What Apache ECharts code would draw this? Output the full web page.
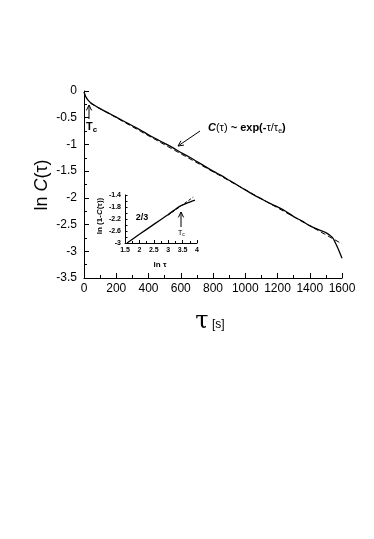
<!DOCTYPE html>
<html>
<head>
<meta charset="utf-8">
<script src="https://cdn.jsdelivr.net/npm/echarts@6/dist/echarts.min.js"></script>
<style>
  html, body { margin: 0; padding: 0; background: #fff; }
  #main { width: 374px; height: 539px; }
</style>
</head>
<body>
<div id="main"></div>
<script>
  // main panel: ln C(tau) against tau [s]
  const tau = [0, 10, 25, 50, 100, 150, 200, 250, 300, 350, 400, 450, 500, 550, 600, 650, 700, 750, 800,
    850, 900, 950, 1000, 1050, 1100, 1150, 1200, 1250, 1300, 1350, 1400, 1450, 1500, 1540, 1560, 1580, 1600];
  const lnC = [-0.02, -0.10, -0.17, -0.24, -0.33, -0.41, -0.49, -0.57, -0.65, -0.73, -0.82, -0.90, -0.98,
    -1.06, -1.15, -1.23, -1.32, -1.41, -1.50, -1.58, -1.67, -1.76, -1.85, -1.94, -2.02, -2.10, -2.17,
    -2.25, -2.35, -2.43, -2.52, -2.59, -2.65, -2.74, -2.85, -2.98, -3.13];
  // exponential fit (dashed)
  const fitTau = [40, 1600];
  const fitLnC = [-0.23, -2.86];

  // inset: ln(1-C) against ln tau
  const lnTau = [1.57, 2.0, 2.5, 3.0, 3.41, 3.65, 3.93];
  const lnOneMinusC = [-3.0, -2.71, -2.38, -2.05, -1.77, -1.67, -1.57];
  const insetFitX = [3.0, 3.87];
  const insetFitY = [-2.07, -1.47];

  const pairs = (xs, ys) => xs.map((x, i) => [x, ys[i]]);
  const font = 'Liberation Sans, Arial, sans-serif';

  // small open arrow, head at (x2, y2)
  function arrow(x1, y1, x2, y2) {
    const ang = Math.atan2(y1 - y2, x1 - x2);
    const len = 6, spread = 0.45;
    return [
      { type: 'line', shape: { x1: x1, y1: y1, x2: x2, y2: y2 }, style: { stroke: '#000', lineWidth: 1 } },
      { type: 'polyline', shape: { points: [
          [x2 + len * Math.cos(ang + spread), y2 + len * Math.sin(ang + spread)],
          [x2, y2],
          [x2 + len * Math.cos(ang - spread), y2 + len * Math.sin(ang - spread)]
        ] }, style: { stroke: '#000', lineWidth: 1, fill: null } }
    ];
  }

  const chart = echarts.init(document.getElementById('main'));

  const axisLine = { onZero: false, lineStyle: { color: '#000', width: 1 } };

  chart.setOption({
    animation: false,
    backgroundColor: '#fff',
    grid: [
      { left: 84, top: 91, width: 258, height: 187 },
      { left: 125, top: 195, width: 72, height: 48 }
    ],
    xAxis: [
      {
        type: 'value', gridIndex: 0, min: 0, max: 1600, interval: 200,
        axisLine: axisLine, splitLine: { show: false },
        axisTick: { inside: true, length: 5, lineStyle: { color: '#000' } },
        minorTick: { show: true, splitNumber: 2, length: 3, lineStyle: { color: '#000' } },
        axisLabel: { color: '#000', fontFamily: font, fontSize: 12, margin: 5, formatter: v => String(v) }
      },
      {
        type: 'value', gridIndex: 1, min: 1.5, max: 4, interval: 0.5,
        axisLine: axisLine, splitLine: { show: false },
        axisTick: { inside: true, length: 3, lineStyle: { color: '#000' } },
        minorTick: { show: true, splitNumber: 2, length: 2, lineStyle: { color: '#000' } },
        axisLabel: { color: '#000', fontFamily: font, fontSize: 7, fontWeight: 'bold', margin: 4,
          formatter: v => String(Number(v.toFixed(1))) }
      }
    ],
    yAxis: [
      {
        type: 'value', gridIndex: 0, min: -3.5, max: 0, interval: 0.5,
        axisLine: axisLine, splitLine: { show: false },
        axisTick: { inside: true, length: 5, lineStyle: { color: '#000' } },
        minorTick: { show: true, splitNumber: 2, length: 3, lineStyle: { color: '#000' } },
        axisLabel: { color: '#000', fontFamily: font, fontSize: 12, margin: 7, formatter: v => String(v) }
      },
      {
        type: 'value', gridIndex: 1, min: -3, max: -1.4, interval: 0.2,
        axisLine: axisLine, splitLine: { show: false },
        axisTick: { inside: true, length: 2.5, lineStyle: { color: '#000' } },
        axisLabel: { color: '#000', fontFamily: font, fontSize: 7, fontWeight: 'bold', margin: 4,
          formatter: v => (Math.round((v + 3) / 0.2) % 2 === 0 ? String(Number(v.toFixed(1))) : '') }
      }
    ],
    series: [
      {
        type: 'line', xAxisIndex: 0, yAxisIndex: 0, data: pairs(tau, lnC),
        showSymbol: false, smooth: 0.3, lineStyle: { color: '#000', width: 1.3 }
      },
      {
        type: 'line', xAxisIndex: 0, yAxisIndex: 0, data: pairs(fitTau, fitLnC),
        showSymbol: false, lineStyle: { color: '#000', width: 1, type: [5, 3] }
      },
      {
        type: 'line', xAxisIndex: 1, yAxisIndex: 1, data: pairs(lnTau, lnOneMinusC),
        showSymbol: false, smooth: 0.2, lineStyle: { color: '#000', width: 1.3 }
      },
      {
        type: 'line', xAxisIndex: 1, yAxisIndex: 1, data: pairs(insetFitX, insetFitY),
        showSymbol: false, lineStyle: { color: '#000', width: 1, type: [3, 2] }
      }
    ],
    graphic: [
      // y axis name
      {
        type: 'text', x: 42, y: 185, rotation: Math.PI / 2,
        style: {
          text: '{n|ln }{c|C}{n|(τ)}', align: 'center', verticalAlign: 'middle',
          rich: {
            n: { fontSize: 18, fontFamily: font, fill: '#000' },
            c: { fontSize: 18, fontFamily: font, fontStyle: 'italic', fill: '#000' }
          }
        }
      },
      // x axis name
      {
        type: 'text', x: 210, y: 322,
        style: {
          text: '{t|τ} {s|[s]}', align: 'center', verticalAlign: 'middle',
          rich: {
            t: { fontSize: 24, fontFamily: 'DejaVu Serif, serif', fill: '#000' },
            s: { fontSize: 12, fontFamily: font, fill: '#000', padding: [6, 0, 0, 0] }
          }
        }
      },
      // fit annotation
      {
        type: 'text', x: 208, y: 128,
        style: {
          text: '{ci|C}{r|(τ)}{b| ~ exp(-}{r|τ/τ}{sub|e}{b|)}', verticalAlign: 'middle',
          rich: {
            ci: { fontSize: 11, fontFamily: font, fontWeight: 'bold', fontStyle: 'italic', fill: '#000' },
            r: { fontSize: 11, fontFamily: font, fill: '#000' },
            b: { fontSize: 11, fontFamily: font, fontWeight: 'bold', fill: '#000' },
            sub: { fontSize: 7, fontFamily: font, fill: '#000', padding: [6, 0, 0, 0] }
          }
        }
      },
      ...arrow(200, 131, 178, 146),
      // Tc in main panel
      ...arrow(89, 119, 89, 105),
      {
        type: 'text', x: 86, y: 127,
        style: {
          text: '{t|T}{c|c}', verticalAlign: 'middle',
          rich: {
            t: { fontSize: 11, fontFamily: font, fontWeight: 'bold', fill: '#000' },
            c: { fontSize: 8, fontFamily: font, fontWeight: 'bold', fill: '#000', padding: [5, 0, 0, 0] }
          }
        }
      },
      // inset labels
      {
        type: 'text', x: 100, y: 216, rotation: Math.PI / 2,
        style: {
          text: '{n|ln (1-}{c|C}{n|(τ))}', align: 'center', verticalAlign: 'middle',
          rich: {
            n: { fontSize: 8, fontFamily: font, fontWeight: 'bold', fill: '#000' },
            c: { fontSize: 8, fontFamily: font, fontWeight: 'bold', fontStyle: 'italic', fill: '#000' }
          }
        }
      },
      {
        type: 'text', x: 160, y: 265,
        style: { text: 'ln τ', align: 'center', verticalAlign: 'middle',
          fontSize: 8, fontFamily: font, fontWeight: 'bold', fill: '#000' }
      },
      {
        type: 'text', x: 142, y: 218,
        style: { text: '2/3', align: 'center', verticalAlign: 'middle',
          fontSize: 9, fontFamily: font, fontWeight: 'bold', fill: '#000' }
      },
      ...arrow(181, 227, 181, 212),
      {
        type: 'text', x: 178, y: 233,
        style: {
          text: '{t|T}{c|c}', verticalAlign: 'middle',
          rich: {
            t: { fontSize: 7, fontFamily: font, fill: '#000' },
            c: { fontSize: 5, fontFamily: font, fill: '#000', padding: [3, 0, 0, 0] }
          }
        }
      }
    ]
  });
</script>
</body>
</html>
